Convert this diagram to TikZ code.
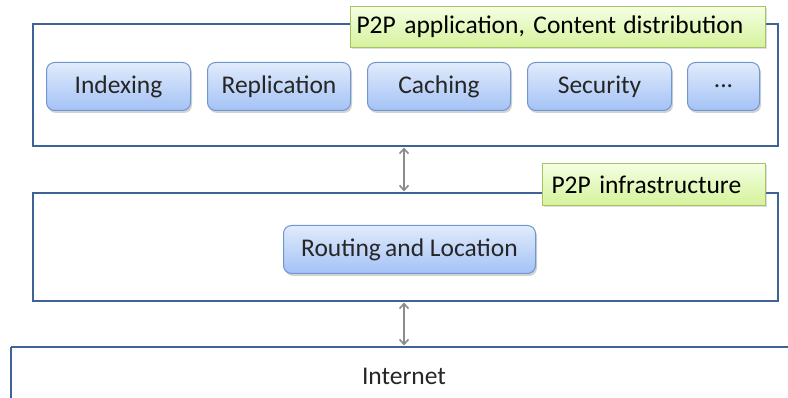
\documentclass[tikz,border=0pt]{standalone}
\usepackage{fontspec}
\setmainfont{Carlito}
\usetikzlibrary{shadows,arrows.meta}
\definecolor{frameblue}{HTML}{3D6497}
\definecolor{boxtop}{HTML}{E1EBFB}
\definecolor{boxbot}{HTML}{A3C2F6}
\definecolor{boxline}{HTML}{7296CF}
\definecolor{gtop}{HTML}{F4FFE2}
\definecolor{gbot}{HTML}{D5F29B}
\definecolor{gline}{HTML}{A5C365}
\definecolor{arrgray}{HTML}{8C8C8C}
\tikzset{
  layer/.style={draw=frameblue, line width=2.4pt, fill=white},
  svc/.style={draw=boxline, line width=1pt, rounded corners=8pt, top color=boxtop, bottom color=boxbot,
    drop shadow={opacity=0.35, shadow xshift=1.5pt, shadow yshift=-2.5pt},
    font=\fontsize{25.5}{30}\selectfont, text=black!85, inner sep=0pt},
  tag/.style={draw=gline, line width=1pt, top color=gtop, bottom color=gbot,
    drop shadow={opacity=0.25, shadow xshift=1.5pt, shadow yshift=-2pt},
    font=\fontsize{25.5}{30}\selectfont, text=black, inner ysep=0pt, align=left},
  link/.style={draw=arrgray, line width=1.6pt, {Straight Barb[length=5pt,width=9pt]}-{Straight Barb[length=5pt,width=9pt]}}
}
\begin{document}
\begin{tikzpicture}[x=1pt,y=-1pt]
\useasboundingbox (0,0) rectangle (788,398);
% layers
\draw[layer] (33,24) rectangle (778,146);
\draw[layer] (33,193) rectangle (778,301);
\draw[layer] (11,347) -- (800,347) (11,347) -- (11,410);
% named anchors for layers
\coordinate (appbot) at (404,147.5);
\coordinate (infratop) at (404,191.5);
\coordinate (infrabot) at (404,302.5);
\coordinate (nettop) at (404,345.5);
% tags
\node[tag, text width=403pt, inner xsep=6pt, minimum height=41pt, anchor=north west] (apptag) at (350,6) {P2P application, Content\hspace{-1.5pt} distribution};
\node[tag, text width=205pt, inner xsep=9pt, minimum height=42pt, anchor=north west] (infratag) at (542,163) {P2P infrastructure};
% services
\node[svc, minimum width=144pt, minimum height=48pt, anchor=north west] (idx) at (46,62) {Indexing};
\node[svc, minimum width=143pt, minimum height=48pt, anchor=north west] (rep) at (207,62) {Replication};
\node[svc, minimum width=143pt, minimum height=48pt, anchor=north west] (cach) at (367,62) {Caching};
\node[svc, minimum width=144pt, minimum height=48pt, anchor=north west] (sec) at (527,62) {Security};
\node[svc, minimum width=72pt, minimum height=48pt, anchor=north west] (more) at (687,62) {...};
\node[svc, minimum width=252pt, minimum height=48pt, anchor=north west] (route) at (283,225) {Routing\hspace{-1.5pt} and Location};
\node[font=\fontsize{25.5}{30}\selectfont, text=black!85, inner sep=0pt] (net) at (404,376) {Internet};
% links
\draw[link] (appbot) -- (infratop);
\draw[link] (infrabot) -- (nettop);
\end{tikzpicture}
\end{document}
